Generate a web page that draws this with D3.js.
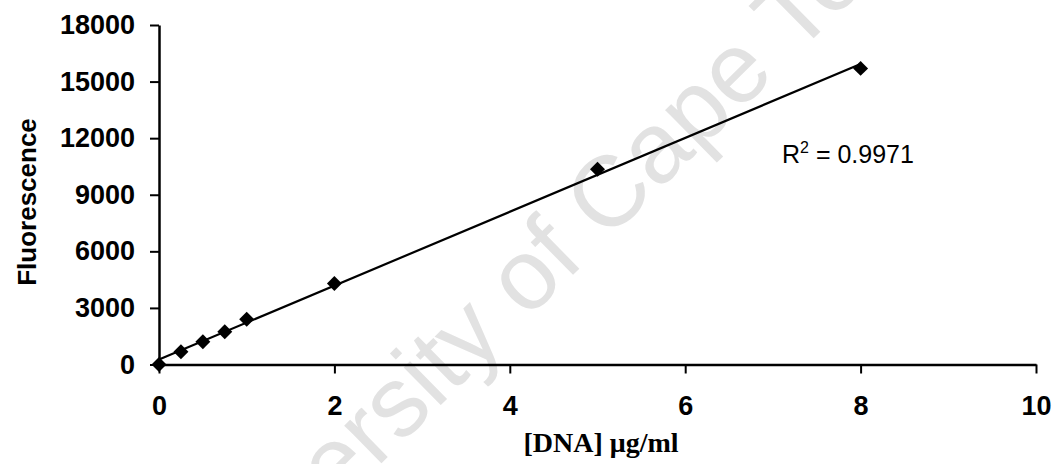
<!DOCTYPE html>
<html>
<head>
<meta charset="utf-8">
<script src="https://cdn.jsdelivr.net/npm/d3@7"></script>
<style>
  html, body { margin: 0; padding: 0; background: #fff; }
  svg { display: block; }
</style>
</head>
<body>
<svg id="chart" width="1053" height="464"></svg>
<script>
  // values
  const concentration = [0, 0.25, 0.5, 0.75, 1, 2, 5, 8];
  const fluorescence = [0, 680, 1210, 1740, 2400, 4300, 10350, 15700];

  const xTicks = [0, 2, 4, 6, 8, 10];
  const yTicks = [0, 3000, 6000, 9000, 12000, 15000, 18000];

  const rSquaredLabel = "0.9971";
  const watermarkText = "University of Cape Town";

  const svg = d3.select("#chart");

  const x = d3.scaleLinear().domain([0, 10]).range([159, 1036]);
  const y = d3.scaleLinear().domain([0, 18000]).range([364.5, 25]);

  /* ---------- watermark ---------- */
  svg.append("text")
    .attr("transform", "translate(578,270) rotate(-44.5)")
    .attr("text-anchor", "middle")
    .attr("font-family", "Liberation Sans, Arial, sans-serif")
    .attr("font-size", 100)
    .attr("fill", "#e2e2e2")
    .text(watermarkText);

  /* ---------- axes ---------- */
  const xAxis = svg.append("g")
    .attr("transform", `translate(0,${y(0)})`)
    .call(d3.axisBottom(x).tickValues(xTicks).tickFormat(d3.format("d"))
      .tickSize(9).tickPadding(22).tickSizeOuter(0));

  const yAxis = svg.append("g")
    .attr("transform", `translate(${x(0)},0)`)
    .call(d3.axisLeft(y).tickValues(yTicks).tickFormat(d3.format("d"))
      .tickSize(9).tickPadding(15).tickSizeOuter(0));

  [xAxis, yAxis].forEach(a => {
    a.select(".domain").attr("stroke", "#000").attr("stroke-width", 2.5);
    a.selectAll(".tick line").attr("stroke", "#000").attr("stroke-width", 2);
    a.selectAll(".tick text")
      .attr("fill", "#000")
      .attr("font-family", "Liberation Sans, Arial, sans-serif")
      .attr("font-weight", "bold")
      .attr("font-size", 27);
  });

  /* ---------- axis titles ---------- */
  svg.append("text")
    .attr("transform", "translate(36,202) rotate(-90)")
    .attr("text-anchor", "middle")
    .attr("font-family", "Liberation Sans, Arial, sans-serif")
    .attr("font-weight", "bold")
    .attr("font-size", 26)
    .attr("fill", "#000")
    .text("Fluorescence");

  svg.append("text")
    .attr("x", 601)
    .attr("y", 452)
    .attr("text-anchor", "middle")
    .attr("font-family", "Liberation Serif, 'Times New Roman', serif")
    .attr("font-weight", "bold")
    .attr("font-size", 28)
    .attr("fill", "#000")
    .text("[DNA] \u03bcg/ml");

  /* ---------- linear trendline (least squares) ---------- */
  const pts = concentration.map((c, i) => ({ c, f: fluorescence[i] }));
  const mx = d3.mean(pts, d => d.c);
  const my = d3.mean(pts, d => d.f);
  const slope = d3.sum(pts, d => (d.c - mx) * (d.f - my)) / d3.sum(pts, d => (d.c - mx) ** 2);
  const intercept = my - slope * mx;
  const xExt = d3.extent(concentration);

  svg.append("path")
    .datum(xExt)
    .attr("fill", "none")
    .attr("stroke", "#000")
    .attr("stroke-width", 2.2)
    .attr("d", d3.line().x(c => x(c)).y(c => y(intercept + slope * c)));

  /* ---------- markers ---------- */
  const diamond = d3.symbol().type(d3.symbolSquare).size(112);

  svg.selectAll(".pt")
    .data(pts)
    .join("path")
    .attr("class", "pt")
    .attr("d", diamond)
    .attr("transform", d => `translate(${x(d.c)},${y(d.f)}) rotate(45)`)
    .attr("fill", "#000");

  /* ---------- R squared ---------- */
  const r2 = svg.append("text")
    .attr("x", 782)
    .attr("y", 163)
    .attr("font-family", "Liberation Sans, Arial, sans-serif")
    .attr("font-size", 25)
    .attr("fill", "#000");
  r2.append("tspan").text("R");
  r2.append("tspan").attr("dy", -10).attr("font-size", 16).text("2");
  r2.append("tspan").attr("dy", 10).text(" = " + rSquaredLabel);
</script>
</body>
</html>
